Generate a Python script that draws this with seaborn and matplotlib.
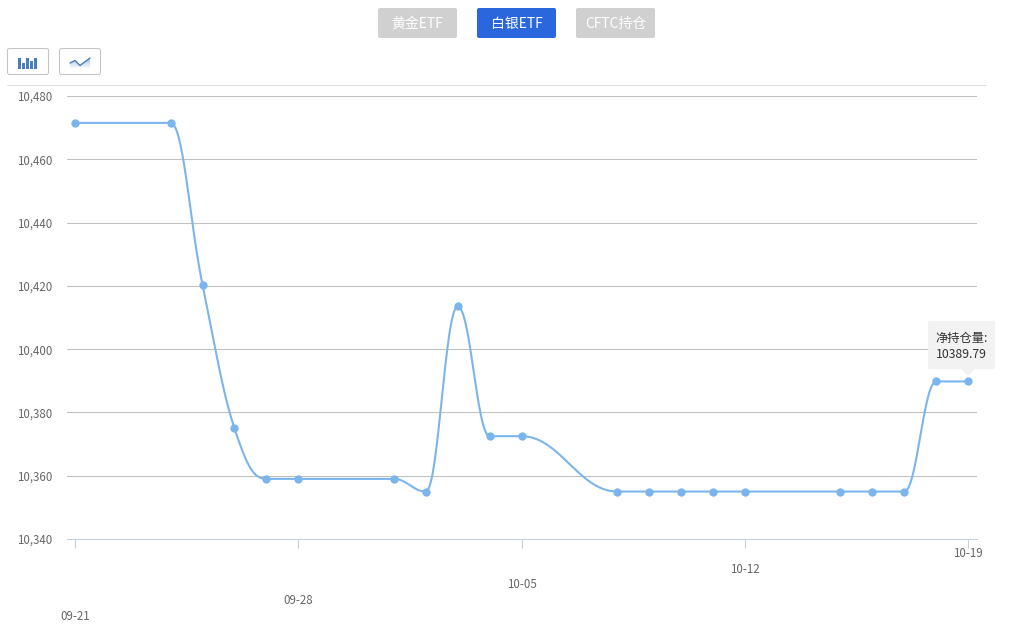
import numpy as np
import pandas as pd
import seaborn as sns
import matplotlib.pyplot as plt
from matplotlib.patches import FancyBboxPatch, Polygon, Rectangle

# valores
fechas = ['09-21', '09-24', '09-25', '09-26', '09-27', '09-28', '10-01', '10-02',
          '10-03', '10-04', '10-05', '10-08', '10-09', '10-10', '10-11', '10-12',
          '10-15', '10-16', '10-17', '10-18', '10-19']
valores = [10471.5, 10471.5, 10420.3, 10375.0, 10359.0, 10359.0, 10359.0, 10355.0,
           10413.5, 10372.5, 10372.5, 10355.0, 10355.0, 10355.0, 10355.0, 10355.0,
           10355.0, 10355.0, 10355.0, 10389.79, 10389.79]
ticks_x = ['09-21', '09-28', '10-05', '10-12', '10-19']
ticks_y = [10340, 10360, 10380, 10400, 10420, 10440, 10460, 10480]
botones = ['黄金ETF', '白银ETF', 'CFTC持仓']
nombre_serie = '净持仓量:'


def a_dia(f):
    return (pd.Timestamp('2020-' + f) - pd.Timestamp('2020-09-21')).days


def curva_spline(x, y, smoothing=1.5, n=30):
    # spline tipo highcharts: puntos de control a partir de los vecinos
    x = np.asarray(x, dtype=float)
    y = np.asarray(y, dtype=float)
    izq = np.column_stack([x, y])
    der = np.column_stack([x, y])
    for i in range(1, len(x) - 1):
        lx = (smoothing * x[i] + x[i - 1]) / (smoothing + 1)
        ly = (smoothing * y[i] + y[i - 1]) / (smoothing + 1)
        rx = (smoothing * x[i] + x[i + 1]) / (smoothing + 1)
        ry = (smoothing * y[i] + y[i + 1]) / (smoothing + 1)
        corr = 0
        if rx != lx:
            corr = ((ry - ly) * (rx - x[i])) / (rx - lx) + y[i] - ry
        ly += corr
        ry += corr
        if ly > max(y[i - 1], y[i]) or ly < min(y[i - 1], y[i]):
            lim = max(y[i - 1], y[i]) if ly > max(y[i - 1], y[i]) else min(y[i - 1], y[i])
            ry = 2 * y[i] - lim
            ly = lim
        if ry > max(y[i + 1], y[i]) or ry < min(y[i + 1], y[i]):
            lim = max(y[i + 1], y[i]) if ry > max(y[i + 1], y[i]) else min(y[i + 1], y[i])
            ly = 2 * y[i] - lim
            ry = lim
        izq[i] = [lx, ly]
        der[i] = [rx, ry]
    t = np.linspace(0, 1, n)[:, None]
    tramos = []
    for i in range(len(x) - 1):
        p0 = np.array([x[i], y[i]])
        p3 = np.array([x[i + 1], y[i + 1]])
        tramos.append((1 - t) ** 3 * p0 + 3 * (1 - t) ** 2 * t * der[i]
                      + 3 * (1 - t) * t ** 2 * izq[i + 1] + t ** 3 * p3)
    return np.vstack(tramos)


sns.set_style('white')
plt.rcParams['font.family'] = ['Noto Sans CJK SC', 'DejaVu Sans']

df = pd.DataFrame({'dia': [a_dia(f) for f in fechas], 'valor': valores})
curva = curva_spline(df['dia'], df['valor'])
df_curva = pd.DataFrame(curva, columns=['dia', 'valor'])

fig = plt.figure(figsize=(10.15, 6.44), dpi=100)
ax = fig.add_axes([67 / 1015, (644 - 539) / 644, 910 / 1015, 443 / 644])

sns.lineplot(data=df_curva, x='dia', y='valor', sort=False, estimator=None,
             color='#7cb5ec', linewidth=1.5, ax=ax, zorder=3)
sns.scatterplot(data=df, x='dia', y='valor', color='#7cb5ec', s=36,
                linewidth=0, ax=ax, zorder=4, clip_on=False)

ax.set_xlim(-0.25, 28.28)
ax.set_ylim(10340, 10480)
ax.set_xlabel('')
ax.set_ylabel('')
for lado in ['top', 'right', 'left']:
    ax.spines[lado].set_visible(False)
ax.spines['bottom'].set_color('#c0d0e0')
ax.spines['bottom'].set_linewidth(0.75)

ax.set_yticks(ticks_y)
ax.set_yticklabels([f'{v:,}' for v in ticks_y])
ax.tick_params(axis='y', length=0, pad=10.5, labelsize=8.3, labelcolor='#666666')
ax.grid(axis='y', color='#c0c0c0', linewidth=0.75)
ax.grid(axis='x', visible=False)
ax.set_axisbelow(True)
# la linea de 10,340 la hace el eje, no la rejilla
ax.yaxis.get_major_ticks()[0].gridline.set_visible(False)

ax.set_xticks([a_dia(f) for f in ticks_x])
ax.set_xticklabels(ticks_x)
ax.tick_params(axis='x', bottom=True, length=6.5, width=0.75, color='#c0d0e0',
               labelsize=8.3, labelcolor='#666666')
# etiquetas escalonadas del eje x
for tick, pad in zip(ax.xaxis.get_major_ticks(), [44.5, 33.3, 21.8, 11, -0.5]):
    tick.set_pad(pad)

# capa en pixeles para los botones, iconos y tooltip
capa = fig.add_axes([0, 0, 1, 1], zorder=10)
capa.set_xlim(0, 1015)
capa.set_ylim(644, 0)
capa.axis('off')
capa.patch.set_alpha(0)

capa.plot([7, 986], [85, 85], color='#e0e0e0', linewidth=0.75)

for texto, x0, ancho, color in zip(botones, [378, 477, 576], [79, 79, 79],
                                   ['#d0d0d0', '#2a67dc', '#d0d0d0']):
    capa.add_patch(FancyBboxPatch((x0 + 2, 10), ancho - 4, 26,
                                  boxstyle='round,pad=2,rounding_size=2',
                                  facecolor=color, edgecolor='none'))
    capa.text(x0 + ancho / 2, 24, texto, color='white', fontsize=10,
              ha='center', va='center')

for x0 in [7.5, 59.5]:
    capa.add_patch(FancyBboxPatch((x0 + 2, 50.5), 37, 22,
                                  boxstyle='round,pad=2,rounding_size=2',
                                  facecolor='white', edgecolor='#c4c4c4', linewidth=0.75))

# icono de barras
for x0, tope in zip([18, 22, 26, 30, 34], [58, 63, 58, 61, 58]):
    capa.add_patch(Rectangle((x0, tope), 3, 69 - tope, facecolor='#4a7ebb', edgecolor='none'))

# icono de area
sx = [70, 75, 80, 90]
sy = [63, 60.5, 65.5, 58]
im = capa.imshow(np.linspace(0, 1, 20)[:, None], extent=[70, 90, 69, 58], aspect='auto',
                 cmap=sns.blend_palette(['#a9c1e0', '#ffffff'], as_cmap=True), zorder=2)
zona = Polygon(list(zip(sx, sy)) + [(90, 69), (70, 69)], transform=capa.transData,
               facecolor='none', edgecolor='none')
capa.add_patch(zona)
im.set_clip_path(zona)
capa.plot(sx, sy, color='#4a7ebb', linewidth=1, zorder=3)
capa.set_xlim(0, 1015)
capa.set_ylim(644, 0)

# tooltip
capa.add_patch(FancyBboxPatch((930, 323), 63, 44, boxstyle='round,pad=2,rounding_size=2',
                              facecolor='#f2f2f2', edgecolor='none', alpha=0.95, zorder=5))
capa.add_patch(Polygon([(961, 369), (975, 369), (968, 376)], facecolor='#f2f2f2',
                       edgecolor='none', zorder=5))
capa.text(935.5, 338.5, nombre_serie, fontsize=8.8, color='#333333', va='center', zorder=6)
capa.text(935.5, 354, f'{valores[-1]:.2f}', fontsize=8.8, color='#333333', va='center', zorder=6)

fig.savefig('out.png', dpi=100)
